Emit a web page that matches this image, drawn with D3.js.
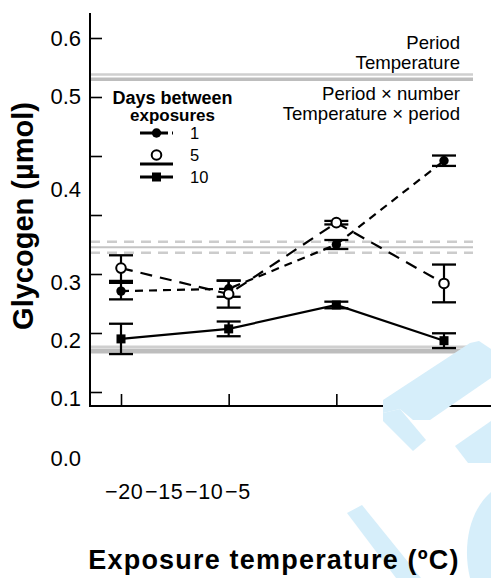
<!DOCTYPE html>
<html>
<head>
<meta charset="utf-8">
<script src="https://cdn.jsdelivr.net/npm/d3@7"></script>
<style>
  body { margin: 0; background: #fff; }
  svg { display: block; }
  text { font-family: "Liberation Sans", Arial, Helvetica, sans-serif; fill: #000; }
</style>
</head>
<body>
<svg id="chart" width="491" height="578"></svg>
<script>
// Exposure temperatures (ºC) on the x axis
const temperatures = [-20, -15, -10, -5];
const xTickLabels = ["\u221220", "\u221215", "\u221210", "\u22125"];

// Days between exposures (legend groups)
const dayGroups = [1, 5, 10];

// Mean glycogen (µmol) and standard error per group
const glycogen1 = [0.171, 0.175, 0.250, 0.392];
const se1 = [0.014, 0.0136, 0.0076, 0.0088];
const glycogen5 = [0.210, 0.166, 0.287, 0.184];
const se5 = [0.0217, 0.023, 0.003, 0.032];
const glycogen10 = [0.090, 0.107, 0.1475, 0.087];
const se10 = [0.0257, 0.0125, 0.0056, 0.0125];

// Y axis ticks
const yTicks = [0, 0.1, 0.2, 0.3, 0.4, 0.5, 0.6];

// Reference lines for the statistical effects
const effectLevelsUpper = [0.538, 0.530];
const effectLevelsMiddle = [0.2547, 0.2453, 0.236];
const effectLevelsLower = [0.0768, 0.0695];
const effectsAbove = ["Period", "Temperature"];
const effectsBelow = ["Period \u00d7 number", "Temperature \u00d7 period"];

const series = [
  { days: 10, values: glycogen10, se: se10, dash: null, marker: "square" },
  { days: 1, values: glycogen1, se: se1, dash: "8,6", marker: "dot" },
  { days: 5, values: glycogen5, se: se5, dash: "12,8", marker: "ring" }
];

const svg = d3.select("#chart");

const x = d3.scaleLinear().domain([-20, -5]).range([121, 444]);
const y = d3.scaleLinear().domain([0, 0.6]).range([392, 38]);
// placement of the printed tick labels
const yLabelPos = d3.scaleLinear().domain(yTicks).range([458, 398, 340, 282, 189, 96, 38]);
const xLabelStart = d3.scaleLinear().domain([-20, -5]).range([105, 225]);

const axisLeftX = 90, axisBottomY = 406;

// effect reference lines
const gLines = svg.append("g");
const xLineEnd = 473;
gLines.selectAll("line.up").data(effectLevelsUpper).join("line")
  .attr("x1", axisLeftX).attr("x2", xLineEnd)
  .attr("y1", d => y(d)).attr("y2", d => y(d))
  .attr("stroke", (d, i) => i === 0 ? "#cfcfcf" : "#bdbdbd")
  .attr("stroke-width", (d, i) => i === 0 ? 2.5 : 3.5);
gLines.selectAll("line.mid").data(effectLevelsMiddle).join("line")
  .attr("x1", axisLeftX).attr("x2", xLineEnd)
  .attr("y1", d => y(d)).attr("y2", d => y(d))
  .attr("stroke", (d, i) => i === 1 ? "#c4c4c4" : "#cccccc")
  .attr("stroke-width", (d, i) => i === 1 ? 2 : 2.5)
  .attr("stroke-dasharray", (d, i) => i === 1 ? null : "10,7");
gLines.selectAll("line.low").data(effectLevelsLower).join("line")
  .attr("x1", axisLeftX).attr("x2", xLineEnd)
  .attr("y1", d => y(d)).attr("y2", d => y(d))
  .attr("stroke", (d, i) => i === 0 ? "#cfcfcf" : "#bdbdbd")
  .attr("stroke-width", (d, i) => i === 0 ? 2.5 : 5);

// axes
svg.append("line").attr("x1", axisLeftX).attr("x2", axisLeftX)
  .attr("y1", 13).attr("y2", axisBottomY + 1).attr("stroke", "#000").attr("stroke-width", 2);
svg.append("line").attr("x1", axisLeftX - 1).attr("x2", 491)
  .attr("y1", axisBottomY).attr("y2", axisBottomY).attr("stroke", "#000").attr("stroke-width", 2);

const yAxis = svg.append("g").attr("transform", `translate(${axisLeftX},0)`)
  .call(d3.axisRight(y).tickValues(yTicks).tickSize(12).tickFormat(""));
yAxis.select(".domain").remove();
yAxis.selectAll(".tick line").attr("stroke-width", 1.6);

const xAxis = svg.append("g").attr("transform", `translate(0,${axisBottomY})`)
  .call(d3.axisTop(x).tickValues(temperatures).tickSize(12).tickFormat(""));
xAxis.select(".domain").remove();
xAxis.selectAll(".tick line").attr("stroke-width", 1.6);

// series
const capHalf = 12;
function drawMarker(g, type, cx, cy) {
  if (type === "square") {
    g.append("rect").attr("x", cx - 4.5).attr("y", cy - 4.5).attr("width", 9).attr("height", 9).attr("fill", "#000");
  } else if (type === "dot") {
    g.append("circle").attr("cx", cx).attr("cy", cy).attr("r", 4.7).attr("fill", "#000");
  } else {
    g.append("circle").attr("cx", cx).attr("cy", cy).attr("r", 4.8).attr("fill", "#fff")
      .attr("stroke", "#000").attr("stroke-width", 2);
  }
}

const line = d3.line().x((d, i) => x(temperatures[i])).y(d => y(d));
series.forEach(s => {
  const g = svg.append("g");
  g.append("path").attr("d", line(s.values)).attr("fill", "none").attr("stroke", "#000")
    .attr("stroke-width", 2.2).attr("stroke-dasharray", s.dash);
  s.values.forEach((v, i) => {
    const cx = x(temperatures[i]);
    const lo = y(v - s.se[i]), hi = y(v + s.se[i]);
    g.append("line").attr("x1", cx).attr("x2", cx).attr("y1", lo).attr("y2", hi)
      .attr("stroke", "#000").attr("stroke-width", 2.2);
    [lo, hi].forEach(cy => g.append("line").attr("x1", cx - capHalf).attr("x2", cx + capHalf)
      .attr("y1", cy).attr("y2", cy).attr("stroke", "#000").attr("stroke-width", 2.3));
    drawMarker(g, s.marker, cx, y(v));
  });
});

// publisher watermark over the lower right corner (under the text)
const watermark = svg.append("g").attr("fill", "#d6eefa");
[
  "M383,400 L470,343 L479,341 L491,349 L491,378 L430,420 L413,420 L400,409 L383,413 Z",
  "M383,413 L400,409 L426,440 L413,451 L383,421 Z",
  "M455,446 L491,421 L491,463 L468,463 Z",
  "M347,513 L362,505 L421,578 L396,578 Z",
  "M491,492 C470,510 462,545 470,578 L491,578 Z"
].forEach(p => watermark.append("path").attr("d", p));

// effect labels
svg.append("g").selectAll("text").data(effectsAbove).join("text")
  .attr("x", 460).attr("y", (d, i) => y(effectLevelsUpper[0]) - 26 + i * 20.5)
  .attr("text-anchor", "end").attr("font-size", 18.6).text(d => d);
svg.append("g").selectAll("text").data(effectsBelow).join("text")
  .attr("x", 460).attr("y", (d, i) => y(effectLevelsUpper[1]) + 20.5 + i * 20)
  .attr("text-anchor", "end").attr("font-size", 18.6).text(d => d);

// printed tick labels
svg.append("g").selectAll("text").data(yTicks).join("text")
  .attr("x", 81).attr("y", d => yLabelPos(d) + 7.8)
  .attr("text-anchor", "end").attr("font-size", 22).text(d => d3.format(".1f")(d));
svg.append("g").selectAll("text").data(temperatures).join("text")
  .attr("x", d => xLabelStart(d)).attr("y", 499)
  .attr("text-anchor", "start").attr("font-size", 21.5).attr("letter-spacing", 0.6)
  .text((d, i) => xTickLabels[i]);

// axis titles
svg.append("text").attr("x", 274).attr("y", 569).attr("text-anchor", "middle")
  .attr("font-size", 27).attr("font-weight", "bold").attr("letter-spacing", 1.2)
  .text("Exposure temperature (\u00baC)");
svg.append("text").attr("transform", "translate(33,216) rotate(-90)").attr("text-anchor", "middle")
  .attr("font-size", 29).attr("font-weight", "bold").text("Glycogen (\u00b5mol)");

// legend
const legend = svg.append("g");
const legendCx = 172.5;
legend.selectAll("text.title").data(["Days between", "exposures"]).join("text")
  .attr("x", legendCx).attr("y", (d, i) => 103.5 + i * 17.5)
  .attr("text-anchor", "middle").attr("font-size", (d, i) => i === 0 ? 18 : 17)
  .attr("font-weight", "bold").text(d => d);
const legendStyle = { 1: series[1], 5: series[2], 10: series[0] };
dayGroups.forEach((d, i) => {
  const cy = 133 + i * 22;
  const s = legendStyle[d];
  const lineY = d === 5 ? cy + 9 : cy;
  legend.append("line").attr("x1", 140).attr("x2", 173).attr("y1", lineY).attr("y2", lineY)
    .attr("stroke", "#000").attr("stroke-width", d === 5 ? 3.2 : 2.8)
    .attr("stroke-dasharray", d === 1 ? "12,4" : null);
  drawMarker(legend, s.marker, 156.5, cy);
  legend.append("text").attr("x", 190).attr("y", cy + 5.8).attr("font-size", 16.5).text(d);
});
</script>
</body>
</html>
